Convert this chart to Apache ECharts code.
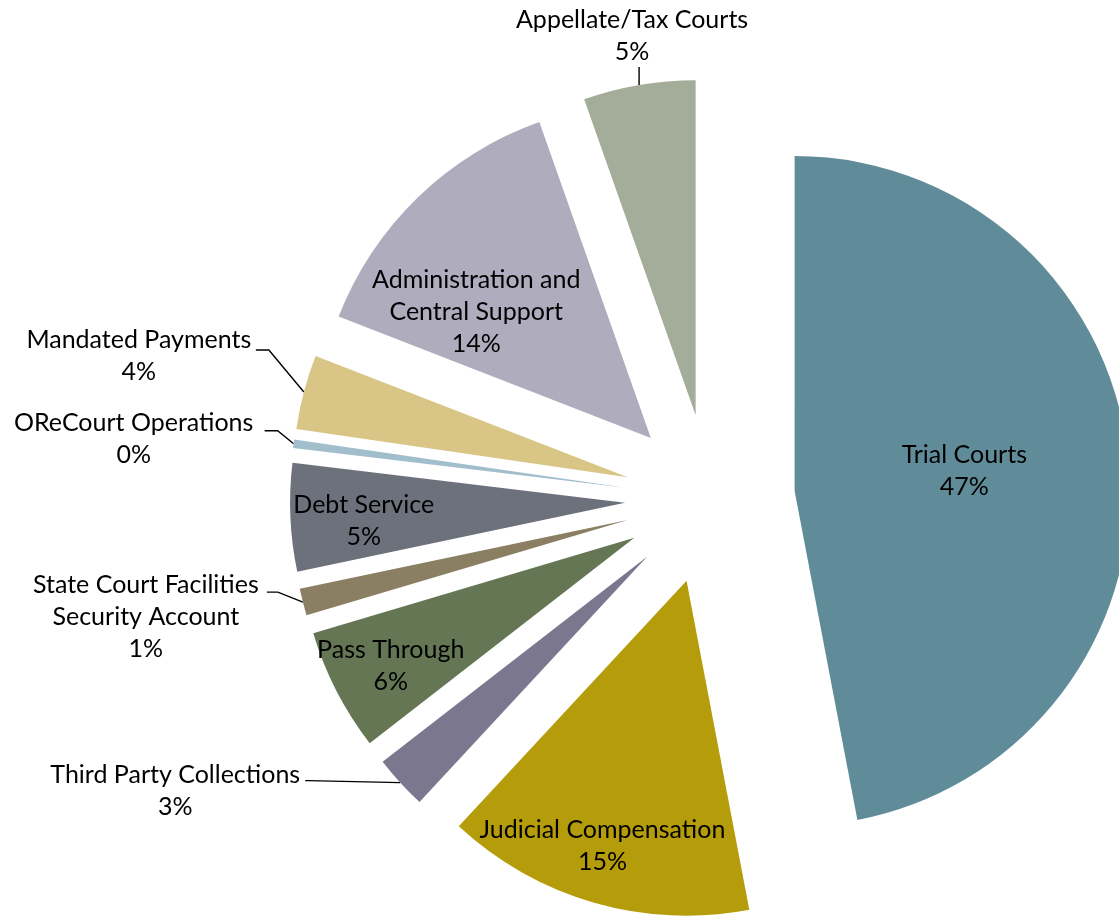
<!DOCTYPE html>
<html>
<head>
<meta charset="utf-8">
<script src="https://cdn.jsdelivr.net/npm/echarts@6/dist/echarts.min.js"></script>
<style>html,body{margin:0;padding:0;background:#fff;}</style>
</head>
<body>
<div id="main" style="width:1119px;height:919px"></div>
<script>
// slices, clockwise from 12 o'clock
var categories = ['Trial Courts', 'Judicial Compensation', 'Third Party Collections', 'Pass Through',
    'State Court Facilities\nSecurity Account', 'Debt Service', 'OReCourt Operations',
    'Mandated Payments', 'Administration and\nCentral Support', 'Appellate/Tax Courts'];
var shares = [47.0, 14.9, 2.6, 5.9, 1.3, 5.2, 0.4, 3.6, 13.7, 5.4];
var colors = ['#608c99', '#b59c0a', '#7b778f', '#657654', '#8a7f62', '#6c717b', '#a0becb', '#d9c586', '#afacbe', '#a3ad99'];

// where each label goes (inside: shift from default; outside: leader line + label centre, relative to arc point)
var labelSpots = [
    { dx: 0, dy: -4 },
    { dx: -37, dy: 101 },
    { line: [[-92, -2], [-95, -2]], at: [-225, 8] },
    { dx: -92, dy: 50 },
    { line: [[-25, -10], [-36, -10]], at: [-157, 15] },
    { dx: -91, dy: 11 },
    { line: [[-16, -13], [-29, -13]], at: [-160, -5] },
    { line: [[-35, -42], [-48, -42]], at: [-165, -36] },
    { dx: -56, dy: -4 },
    { line: [[0, -9], [0, -18]], at: [-7, -49] }
];

var myChart = echarts.init(document.getElementById('main'));

var pieData = categories.map(function (name, i) {
    var outside = !!labelSpots[i].line;
    return {
        name: name,
        value: shares[i],
        selected: true,
        itemStyle: { color: colors[i] },
        label: { position: outside ? 'outside' : 'inside' },
        labelLine: { show: outside }
    };
});

var option = {
    animation: false,
    series: [{
        type: 'pie',
        center: [710, 499],
        radius: 335,
        startAngle: 90,
        clockwise: true,
        selectedMode: 'multiple',
        selectedOffset: 85,
        avoidLabelOverlap: false,
        itemStyle: { borderWidth: 0 },
        select: { itemStyle: { borderWidth: 0 } },
        emphasis: { disabled: true },
        label: {
            color: '#000',
            formatter: function (p) {
                return '{t|' + p.name + '}\n{t|' + Math.round(p.value) + '%}';
            },
            rich: {
                t: { fontFamily: 'Lato', fontSize: 25, lineHeight: 32, color: '#000', align: 'center' }
            }
        },
        labelLine: {
            smooth: false,
            lineStyle: { color: '#000', width: 1.4 }
        },
        labelLayout: function (p) {
            var s = labelSpots[p.dataIndex];
            if (!s.line) {
                return { dx: s.dx, dy: s.dy };
            }
            var p0 = p.labelLinePoints[0];
            var r = p.labelRect;
            var cx = r.x + r.width / 2;
            var cy = r.y + r.height / 2;
            return {
                dx: p0[0] + s.at[0] - cx,
                dy: p0[1] + s.at[1] - cy,
                labelLinePoints: [
                    [p0[0], p0[1]],
                    [p0[0] + s.line[0][0], p0[1] + s.line[0][1]],
                    [p0[0] + s.line[1][0], p0[1] + s.line[1][1]]
                ]
            };
        },
        data: pieData
    }]
};

myChart.setOption(option);
</script>
</body>
</html>
